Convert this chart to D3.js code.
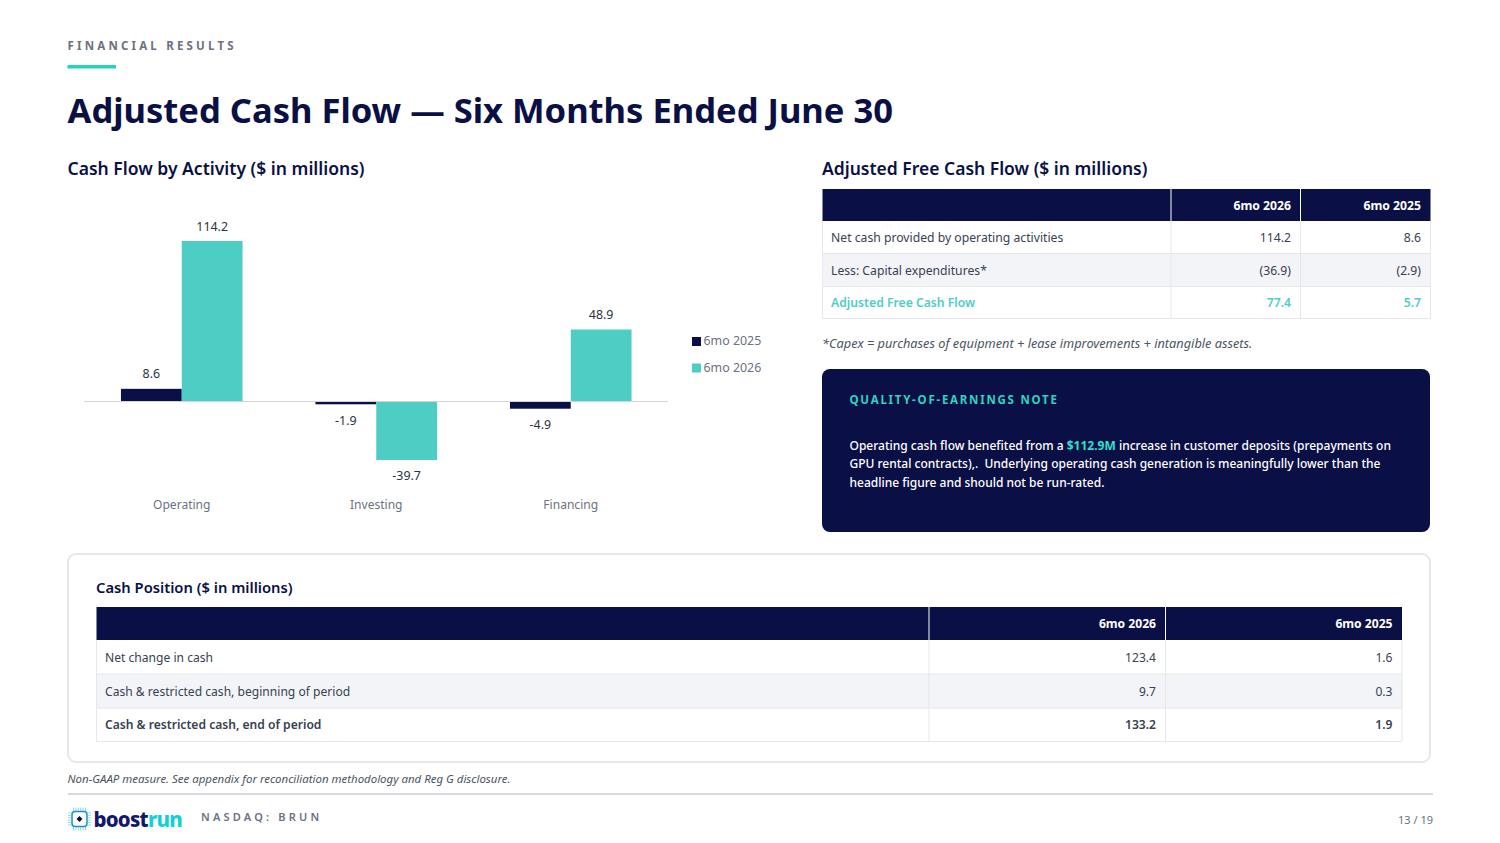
<!DOCTYPE html>
<html><head><meta charset="utf-8">
<script src="https://cdn.jsdelivr.net/npm/d3@7/dist/d3.min.js"></script>
<style>
html,body{margin:0;padding:0;background:#fff}
svg{display:block}
text{font-family:"Noto Sans","Open Sans",sans-serif}
</style></head><body><div id="c"></div>
<script>
const categories=["Operating","Investing","Financing"];
const seriesNames=["6mo 2025","6mo 2026"];
const values2025=[8.6,-1.9,-4.9];
const values2026=[114.2,-39.7,48.9];
const fcfHeader=["","6mo 2026","6mo 2025"];
const fcfLabels=["Net cash provided by operating activities","Less: Capital expenditures*","Adjusted Free Cash Flow"];
const fcf2026=["114.2","(36.9)","77.4"];
const fcf2025=["8.6","(2.9)","5.7"];
const posLabels=["Net change in cash","Cash & restricted cash, beginning of period","Cash & restricted cash, end of period"];
const pos2026=["123.4","9.7","133.2"];
const pos2025=["1.6","0.3","1.9"];

const NAVY="#0a1045",TEAL="#4ecdc4",BRIGHT="#1fd6bd",GREY="#6b7280",DARK="#374151",LINE="#e5e7eb",ALT="#f3f4f8";
const svg=d3.select("#c").append("svg").attr("width",1500).attr("height",843);
function T(x,y,s,o={}){
  const t=svg.append("text").attr("x",x).attr("y",y).text(s)
    .attr("font-size",o.size||13).attr("fill",o.fill||DARK).attr("font-weight",o.weight||400)
    .attr("text-anchor",o.anchor||"start").attr("dominant-baseline","central");
  if(o.italic)t.attr("font-style","italic");
  if(o.ls)t.attr("letter-spacing",o.ls);
  return t;
}
// header
T(67.5,45.5,"FINANCIAL RESULTS",{size:11.5,weight:700,fill:GREY,ls:3.2});
svg.append("rect").attr("x",67.5).attr("y",65).attr("width",48.5).attr("height",3.5).attr("fill",BRIGHT);
T(67.5,109,"Adjusted Cash Flow — Six Months Ended June 30",{size:34.55,weight:700,fill:NAVY});
T(67.5,168,"Cash Flow by Activity ($ in millions)",{size:17.55,weight:600,fill:NAVY});
T(822,168,"Adjusted Free Cash Flow ($ in millions)",{size:17.5,weight:600,fill:NAVY});

// chart: the tallest bar stops at the top of the plot, so the scale is clamped
const x0=d3.scaleBand().domain(categories).range([84.5,668]).paddingInner(0.375).paddingOuter(0.1875);
const x1=d3.scaleBand().domain(seriesNames).range([0,x0.bandwidth()]);
const y=d3.scaleLinear().domain([-60,109]).range([489.85,241]).clamp(true);
const colors=d3.scaleOrdinal().domain(seriesNames).range([NAVY,TEAL]);
const rows=categories.map((c,i)=>({c,vals:[values2025[i],values2026[i]]}));
const g=svg.append("g").selectAll("g").data(rows).join("g").attr("transform",d=>`translate(${x0(d.c)},0)`);
g.selectAll("rect").data(d=>d.vals.map((v,i)=>({v,n:seriesNames[i]}))).join("rect")
 .attr("x",d=>x1(d.n)).attr("width",x1.bandwidth())
 .attr("y",d=>Math.min(y(d.v),y(0))).attr("height",d=>Math.abs(y(d.v)-y(0))).attr("fill",d=>colors(d.n));
g.selectAll("text").data(d=>d.vals.map((v,i)=>({v,n:seriesNames[i]}))).join("text")
 .attr("x",d=>x1(d.n)+x1.bandwidth()/2).attr("y",d=>d.v>=0?y(d.v)-15:y(d.v)+16)
 .attr("text-anchor","middle").attr("dominant-baseline","central").attr("font-size",12.4).attr("fill","#2b3340").text(d=>d.v);
svg.append("line").attr("x1",84).attr("x2",668).attr("y1",401.5).attr("y2",401.5).attr("stroke","#d1d5db").attr("stroke-width",1);
categories.forEach(c=>T(x0(c)+x0.bandwidth()/2,504.5,c,{size:12.05,fill:GREY,anchor:"middle"}));
seriesNames.forEach((n,i)=>{
  svg.append("rect").attr("x",692).attr("y",337+i*26.5).attr("width",9).attr("height",9).attr("fill",colors(n));
  T(703.5,340.5+i*26.5,n,{size:12.4,fill:GREY});
});

// tables
function table(X,cols,Y,fontSize,rowsData,hl){
  const W=X+cols.reduce((a,b)=>a+b,0);
  const xs=[X];cols.forEach((c,i)=>xs.push(xs[i]+c));
  svg.append("rect").attr("x",X).attr("y",Y[0]).attr("width",W-X).attr("height",Y[1]-Y[0]).attr("fill",NAVY);
  rowsData.forEach((r,i)=>{
    svg.append("rect").attr("x",X).attr("y",Y[i+1]).attr("width",W-X).attr("height",Y[i+2]-Y[i+1]).attr("fill",i==1?ALT:"#fff");
  });
  rowsData.forEach((r,i)=>{
    const a=Y[i+1],b=Y[i+2];
    svg.append("line").attr("x1",X).attr("x2",W).attr("y1",b).attr("y2",b).attr("stroke",LINE);
    const st=hl(i);
    T(xs[0]+8.5,(a+b)/2,r[0],{size:fontSize,...st});
    T(xs[2]-9.5,(a+b)/2,r[1],{size:fontSize,anchor:"end",...st});
    T(xs[3]-9.5,(a+b)/2,r[2],{size:fontSize,anchor:"end",...st});
  });
  const m=(Y[0]+Y[1])/2;
  T(xs[2]-9.5,m,fcfHeader[1],{size:fontSize,anchor:"end",fill:"#fff",weight:700});
  T(xs[3]-9.5,m,fcfHeader[2],{size:fontSize,anchor:"end",fill:"#fff",weight:700});
  [xs[0],xs[3]].forEach(v=>svg.append("line").attr("x1",v).attr("x2",v).attr("y1",Y[1]).attr("y2",Y[Y.length-1]).attr("stroke",LINE));
  [xs[1],xs[2]].forEach(v=>{
    svg.append("line").attr("x1",v).attr("x2",v).attr("y1",Y[0]).attr("y2",Y[1]).attr("stroke","#fff");
    svg.append("line").attr("x1",v).attr("x2",v).attr("y1",Y[1]).attr("y2",Y[Y.length-1]).attr("stroke",LINE);
  });
}
table(822.5,[348.5,129.5,130],[189,221,253.5,286.5,318.5],12.2,
  fcfLabels.map((l,i)=>[l,fcf2026[i],fcf2025[i]]),
  i=>i==2?{fill:TEAL,weight:600}:{fill:DARK});
T(822,343,"*Capex = purchases of equipment + lease improvements + intangible assets.",{size:12.75,italic:true,fill:"#4b5563"});

// note
svg.append("rect").attr("x",822).attr("y",369).attr("width",608).attr("height",163).attr("rx",8).attr("fill",NAVY);
T(849.5,399.5,"QUALITY-OF-EARNINGS NOTE",{size:11.5,weight:700,fill:"#2dd4bf",ls:1.75});
const l1=T(849.5,444.5,"",{size:12,weight:500,fill:"#fff"});
l1.append("tspan").text("Operating cash flow benefited from a ");
l1.append("tspan").text("$112.9M").attr("fill","#2de0cf").attr("font-weight",700);
l1.append("tspan").text(" increase in customer deposits (prepayments on");
T(849.5,463.5,"GPU rental contracts),.  Underlying operating cash generation is meaningfully lower than the",{size:12,weight:500,fill:"#fff"}).style("white-space","pre");
T(849.5,482,"headline figure and should not be run-rated.",{size:12,weight:500,fill:"#fff"});

// cash position
svg.append("rect").attr("x",68).attr("y",554).attr("width",1362).attr("height",208).attr("rx",8).attr("fill","#fff").attr("stroke",LINE).attr("stroke-width",2);
T(96,586.5,"Cash Position ($ in millions)",{size:14.75,weight:600,fill:NAVY});
table(96.5,[832.5,236.5,236.5],[607,640,674,708,741.5],12.1,
  posLabels.map((l,i)=>[l,pos2026[i],pos2025[i]]),
  i=>i==2?{fill:DARK,weight:600}:{fill:DARK});

// footer
T(67.5,778.5,"Non-GAAP measure. See appendix for reconciliation methodology and Reg G disclosure.",{size:11.45,italic:true,fill:"#4b5563"});
svg.append("line").attr("x1",68).attr("x2",1433).attr("y1",794).attr("y2",794).attr("stroke","#c9cdd8").attr("stroke-width",1.5);
// logo
const lg=svg.append("g").attr("transform","translate(79.5,819)");
lg.append("rect").attr("x",-7.5).attr("y",-7.5).attr("width",15).attr("height",15).attr("rx",3).attr("fill","#fff").attr("stroke","#1f8fbf").attr("stroke-width",1.5);
lg.append("path").attr("d","M0,-3L3,0L0,3L-3,0Z").attr("fill",NAVY);
d3.range(-6,7,2.4).forEach(v=>{
  lg.append("path").attr("d",`M${v},-11.5V-8M${v},8V11.5M-11.5,${v}H-8M8,${v}H11.5`).attr("stroke","#5fd0e0").attr("stroke-width",.7);
});
const lt=svg.append("text").attr("x",93.5).attr("y",818.5).attr("dominant-baseline","central").attr("font-size",20.4).attr("font-weight",800).attr("letter-spacing",-0.75);
lt.append("tspan").text("boost").attr("fill","#12186b");
lt.append("tspan").text("run").attr("fill","#13cfd6");
T(201,816.5,"NASDAQ: BRUN",{size:11,weight:600,fill:GREY,ls:3.2});
T(1433,819,"13 / 19",{size:11,fill:GREY,anchor:"end"});
</script></body></html>
